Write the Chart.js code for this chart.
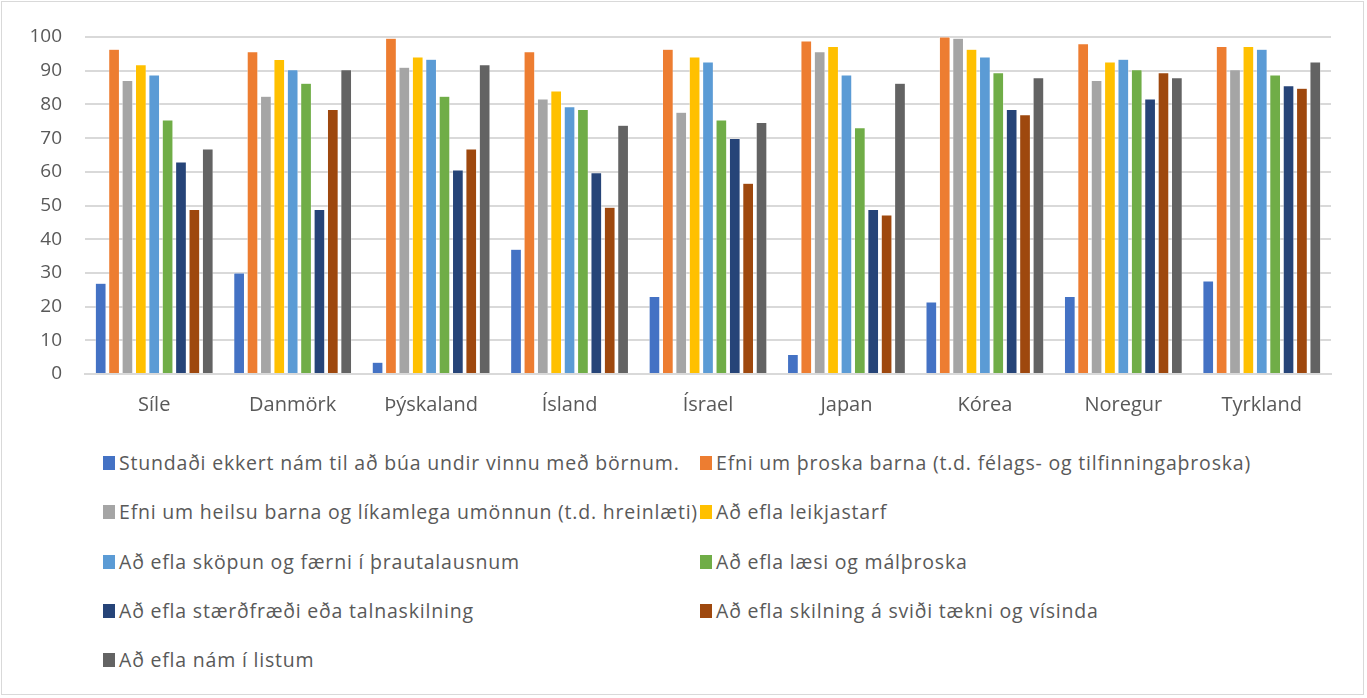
<!DOCTYPE html>
<html lang="is">
<head>
  <meta charset="UTF-8">
  <title>Nám starfsfólks</title>
  <style>
    body {
      margin: 0;
      background: #fff;
      font-family: "Open Sans", sans-serif;
    }
    #frame {
      position: absolute;
      left: 1px; top: 1px;
      width: 1363px; height: 694px;
      border: 1px solid #d9d9d9;
      box-sizing: border-box;
    }
    #wrap {
      position: absolute;
      left: 0; top: 0;
      width: 1367px; height: 440px;
    }
    #legend {
      position: absolute;
      left: 103px; top: 449px;
      display: grid;
      grid-template-columns: 597px 560px;
      grid-auto-rows: 49.3px;
      font-size: 19.5px;
      line-height: 27px;
      color: #595959;
      letter-spacing: 0.8px;
    }
    .item { display: flex; align-items: flex-start; white-space: nowrap; }
    .sw { width: 12px; height: 14px; margin-right: 4px; margin-top: 7px; flex: none; }
  </style>
</head>
<body>
  <div id="frame"></div>
  <div id="wrap"><canvas id="chart"></canvas></div>
  <div id="legend"></div>

  <script src="https://cdn.jsdelivr.net/npm/chart.js"></script>
  <script>
    const countries = ['Síle', 'Danmörk', 'Þýskaland', 'Ísland', 'Ísrael', 'Japan', 'Kórea', 'Noregur', 'Tyrkland'];

    const seriesNames = [
      'Stundaði ekkert nám til að búa undir vinnu með börnum.',
      'Efni um þroska barna (t.d. félags- og tilfinningaþroska)',
      'Efni um heilsu barna og líkamlega  umönnun (t.d. hreinlæti)',
      'Að efla leikjastarf',
      'Að efla sköpun og færni í þrautalausnum',
      'Að efla læsi og málþroska',
      'Að efla stærðfræði eða talnaskilning',
      'Að efla skilning á sviði tækni og vísinda',
      'Að efla nám í listum'
    ];

    const noStudy    = [26.9, 30.0, 3.5, 37.0, 23.0, 5.8, 21.4, 23.0, 27.6];
    const development= [96.4, 95.6, 99.6, 95.6, 96.4, 98.8, 100, 98.0, 97.2];
    const health     = [87.1, 82.4, 91.0, 81.6, 77.7, 95.6, 99.6, 87.1, 90.3];
    const play       = [91.8, 93.3, 94.1, 84.0, 94.1, 97.2, 96.4, 92.6, 97.2];
    const creativity = [88.7, 90.3, 93.4, 79.3, 92.6, 88.7, 94.1, 93.4, 96.4];
    const literacy   = [75.4, 86.3, 82.4, 78.5, 75.4, 73.1, 89.4, 90.3, 88.7];
    const maths      = [62.9, 48.8, 60.5, 59.7, 69.9, 48.8, 78.5, 81.6, 85.5];
    const science    = [48.8, 78.5, 66.8, 49.5, 56.6, 47.2, 76.9, 89.4, 84.8];
    const arts       = [66.8, 90.3, 91.8, 73.8, 74.6, 86.3, 87.9, 87.9, 92.6];

    const yTicks = [0, 10, 20, 30, 40, 50, 60, 70, 80, 90, 100];

    const colors = ['#4472c4', '#ed7d31', '#a5a5a5', '#ffc000', '#5b9bd5', '#70ad47', '#264478', '#9e480e', '#636363'];
    const values = [noStudy, development, health, play, creativity, literacy, maths, science, arts];

    const datasets = values.map((v, i) => ({
      label: seriesNames[i],
      data: v,
      backgroundColor: colors[i],
      borderColor: '#ffffff',
      borderWidth: 0.5,
      categoryPercentage: 0.87,
      barPercentage: 0.8
    }));

    new Chart(document.getElementById('chart'), {
      type: 'bar',
      data: { labels: countries, datasets: datasets },
      options: {
        responsive: true,
        maintainAspectRatio: false,
        animation: false,
        layout: { padding: { top: 37, right: 36, left: 0, bottom: 0 } },
        plugins: { legend: { display: false }, tooltip: { enabled: false } },
        scales: {
          x: {
            grid: { display: false, drawTicks: false },
            border: { display: true, color: '#d9d9d9', width: 2 },
            ticks: { color: '#595959', font: { family: 'Open Sans', size: 20 }, padding: 19 },
            afterFit: s => { s.height = 66; }
          },
          y: {
            min: 0, max: 100,
            afterBuildTicks: s => { s.ticks = yTicks.map(v => ({ value: v })); },
            grid: { color: '#d9d9d9', lineWidth: 2, drawTicks: false },
            border: { display: false },
            ticks: { color: '#595959', font: { family: 'Open Sans', size: 19 }, padding: 23 },
            afterFit: s => { s.width = 85; }
          }
        }
      }
    });

    const legend = document.getElementById('legend');
    seriesNames.forEach((name, i) => {
      const item = document.createElement('div');
      item.className = 'item';
      const sw = document.createElement('span');
      sw.className = 'sw';
      sw.style.background = colors[i];
      const txt = document.createElement('span');
      txt.textContent = name;
      item.appendChild(sw);
      item.appendChild(txt);
      legend.appendChild(item);
    });
  </script>
</body>
</html>
